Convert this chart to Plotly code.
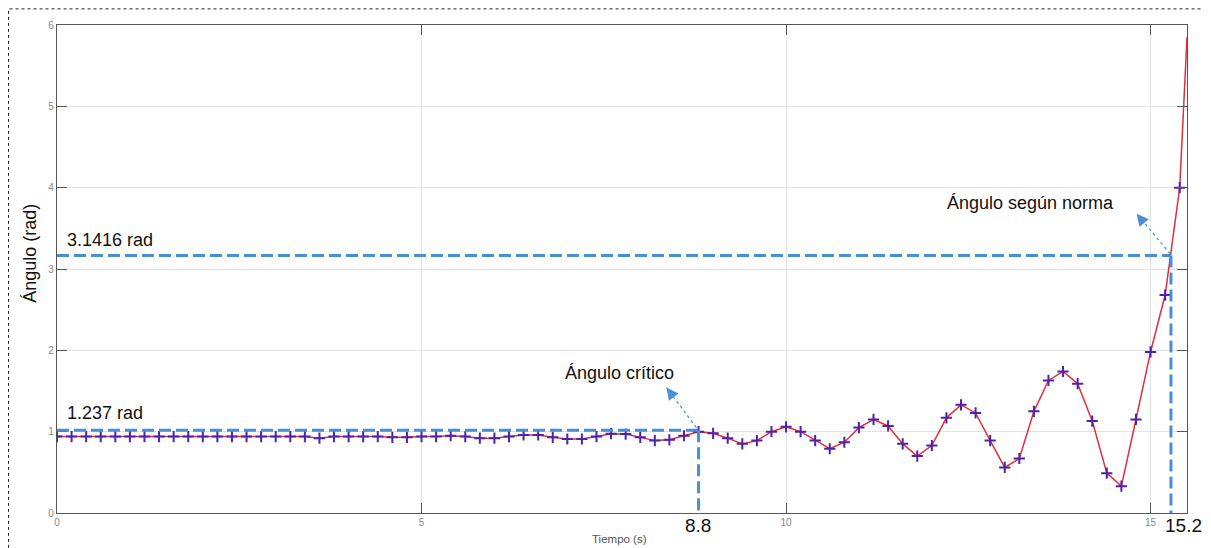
import plotly.graph_objects as go

# Serie muestreada cada 0.2 s
tiempo = [0.0, 0.2, 0.4, 0.6, 0.8, 1.0, 1.2, 1.4, 1.6, 1.8,
          2.0, 2.2, 2.4, 2.6, 2.8, 3.0, 3.2, 3.4, 3.6, 3.8,
          4.0, 4.2, 4.4, 4.6, 4.8, 5.0, 5.2, 5.4, 5.6, 5.8,
          6.0, 6.2, 6.4, 6.6, 6.8, 7.0, 7.2, 7.4, 7.6, 7.8,
          8.0, 8.2, 8.4, 8.6, 8.8, 9.0, 9.2, 9.4, 9.6, 9.8,
          10.0, 10.2, 10.4, 10.6, 10.8, 11.0, 11.2, 11.4, 11.6, 11.8,
          12.0, 12.2, 12.4, 12.6, 12.8, 13.0, 13.2, 13.4, 13.6, 13.8,
          14.0, 14.2, 14.4, 14.6, 14.8, 15.0, 15.2, 15.4]
angulo = [0.94, 0.94, 0.94, 0.94, 0.94, 0.94, 0.94, 0.94, 0.94, 0.94,
          0.94, 0.94, 0.94, 0.94, 0.94, 0.94, 0.94, 0.94, 0.92, 0.94,
          0.94, 0.94, 0.94, 0.93, 0.93, 0.94, 0.94, 0.95, 0.94, 0.92,
          0.92, 0.94, 0.96, 0.96, 0.93, 0.91, 0.91, 0.94, 0.975, 0.97,
          0.93, 0.89, 0.90, 0.95, 1.00, 0.98, 0.92, 0.85, 0.89, 1.00,
          1.06, 1.00, 0.89, 0.79, 0.87, 1.05, 1.15, 1.07, 0.85, 0.70,
          0.83, 1.17, 1.33, 1.23, 0.89, 0.56, 0.67, 1.25, 1.63, 1.74,
          1.59, 1.13, 0.49, 0.33, 1.15, 1.98, 2.68, 4.00]
# ultimo tramo de la curva (sin marcador)
tiempo_fin = [15.4, 15.5]
angulo_fin = [4.00, 5.85]

x_ticks = [0, 5, 10, 15]
y_ticks = [0, 1, 2, 3, 4, 5, 6]

# lineas de referencia (posicion dibujada)
t_critico, ang_critico = 8.8, 1.016
t_norma, ang_norma = 15.28, 3.165

azul = "#4a8fd6"
fuente = "Liberation Sans, Arial, sans-serif"

fig = go.Figure()
fig.add_trace(go.Scatter(x=tiempo + tiempo_fin[1:], y=angulo + angulo_fin[1:],
                         mode="lines", line=dict(color="#e0303c", width=1.5),
                         hoverinfo="skip"))
fig.add_trace(go.Scatter(x=tiempo, y=angulo, mode="markers",
                         marker=dict(symbol="cross-thin", size=8,
                                     line=dict(color="#5022a8", width=2))))

# lineas discontinuas
for x0, y0, x1, y1 in [(0, ang_critico, t_critico, ang_critico),
                       (t_critico, ang_critico, t_critico, 0),
                       (0, ang_norma, t_norma, ang_norma),
                       (t_norma, ang_norma, t_norma, 0)]:
    fig.add_shape(type="line", x0=x0, y0=y0, x1=x1, y1=y1,
                  line=dict(color=azul, width=3, dash="12px,5px"))

# flechas punteadas
flechas = [((8.77, 1.05), (8.36, 1.543), 7.5, 10),
           ((15.27, 3.185), (14.81, 3.68), 8, 10)]
for cola, punta, ax, ay in flechas:
    fig.add_shape(type="line", x0=cola[0], y0=cola[1], x1=punta[0], y1=punta[1],
                  line=dict(color=azul, width=1.2, dash="dot"))
    fig.add_annotation(x=punta[0], y=punta[1], ax=ax, ay=ay, text="",
                       showarrow=True, arrowhead=2, arrowsize=2,
                       arrowwidth=1.2, arrowcolor=azul)

# marco punteado exterior (el borde derecho queda fuera de la imagen)
fig.add_shape(type="rect", xref="paper", yref="paper",
              x0=-0.0429, x1=1.04, y0=-0.12, y1=1.033,
              line=dict(color="#222", width=1, dash="dot"))

textos = [
    ("3.1416 rad", 0.11, 3.36, "left", 18),
    ("1.237 rad", 0.11, 1.235, "left", 18),
    ("Ángulo crítico", 7.71, 1.716, "center", 18),
    ("Ángulo según norma", 13.35, 3.815, "center", 18),
]
for txt, x, y, anc, sz in textos:
    fig.add_annotation(x=x, y=y, text=txt, showarrow=False, xanchor=anc,
                       yanchor="middle", font=dict(size=sz, color="#111"))

# textos fuera del area de trazado (en coordenadas de papel)
for txt, x, sz in [("8.8", 8.79, 19), ("15.2", 15.45, 19)]:
    fig.add_annotation(x=x, y=-0.0266, yref="paper", text=txt, showarrow=False,
                       xanchor="center", yanchor="middle",
                       font=dict(size=sz, color="#111"))
fig.add_annotation(x=7.72, y=-0.0533, yref="paper", text="Tiempo (s)",
                   showarrow=False, xanchor="center", yanchor="middle",
                   font=dict(size=11.5, color="#555"))
fig.add_annotation(x=-0.0239, xref="paper", y=3.2, text="Ángulo (rad)",
                   showarrow=False, textangle=-90, xanchor="center",
                   yanchor="middle", font=dict(size=18, color="#111"))

ejes = dict(showline=True, linecolor="#555", linewidth=1.3, mirror="ticks",
            ticks="inside", ticklen=10, tickcolor="#555", tickwidth=1.3,
            showgrid=True, gridcolor="#e3e3e3", gridwidth=1, zeroline=False,
            tickfont=dict(size=10, color="#888"))

fig.update_xaxes(range=[0, 15.5], tickvals=x_ticks, **ejes)
fig.update_yaxes(range=[0, 6], tickvals=y_ticks, **ejes)

# la pagina deja 8 px de margen: la figura se compensa
fig.update_layout(width=1203, height=540, showlegend=False,
                  margin=dict(l=49, r=24, t=17, b=35),
                  plot_bgcolor="white", paper_bgcolor="white",
                  font=dict(family=fuente))

fig.write_html("out.html")
